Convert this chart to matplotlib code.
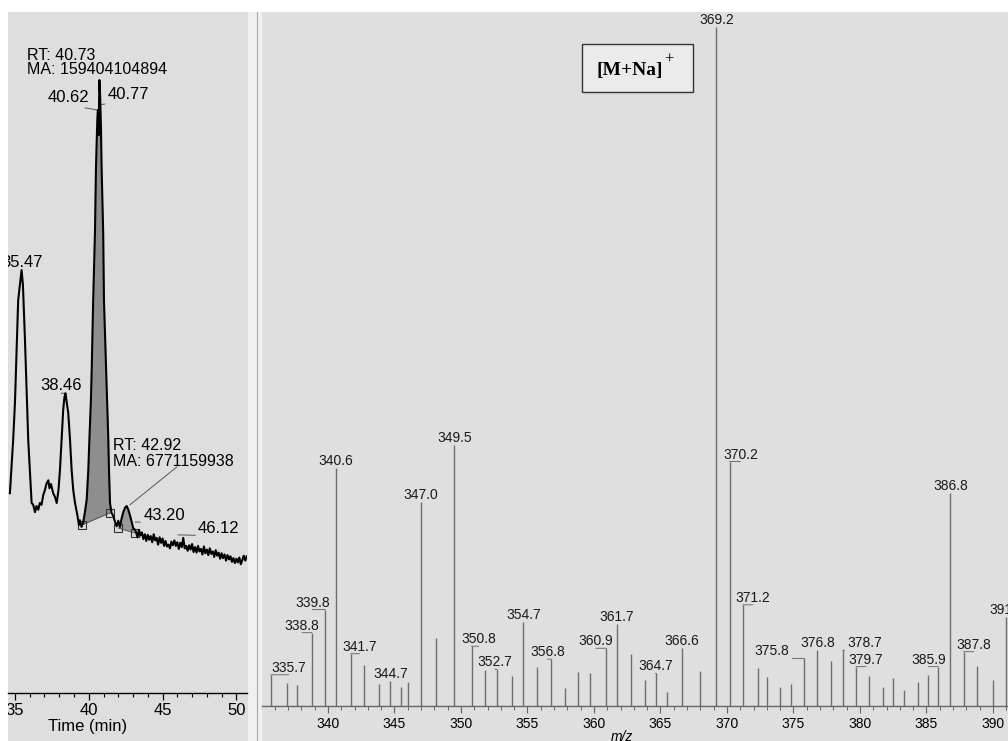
"""LC trace (left) and ESI mass spectrum of the main peak (right)."""
import matplotlib

matplotlib.use("Agg")
import matplotlib.pyplot as plt
import numpy as np
from matplotlib.patches import Rectangle
from matplotlib.ticker import MultipleLocator
from matplotlib.transforms import Bbox, TransformedBbox

W, H = 1008, 741

# chromatogram: time (min) and relative signal
rt_time = [
    34.66, 34.88, 35.00, 35.22, 35.45, 35.54, 35.68, 35.90, 36.13, 36.24,
    36.36, 36.46, 36.58, 36.69, 36.80, 36.92, 37.03, 37.13, 37.26, 37.34,
    37.44, 37.59, 37.71, 37.83, 37.95, 38.05, 38.16, 38.27, 38.35, 38.42,
    38.50, 38.61, 38.73, 38.84, 38.95, 39.07, 39.23, 39.34, 39.40, 39.51,
    39.63, 39.74, 39.86, 39.97, 40.05, 40.14, 40.20, 40.30, 40.42, 40.49,
    40.58, 40.62, 40.67, 40.72, 40.77, 40.83, 40.87, 40.98, 41.03, 41.17,
    41.25, 41.32, 41.37, 41.44, 41.54, 41.66, 41.78, 41.89, 42.00, 42.11,
    42.23, 42.34, 42.45, 42.57, 42.68, 42.79, 42.91, 43.01, 43.13,
    43.2, 43.3, 43.4, 43.5, 43.6, 43.7, 43.8, 43.9, 44.0, 44.1,
    44.2, 44.3, 44.4, 44.5, 44.6, 44.7, 44.8, 44.9, 45.0, 45.1,
    45.2, 45.3, 45.4, 45.5, 45.6, 45.7, 45.8, 45.9, 46.0, 46.1,
    46.2, 46.3, 46.4, 46.5, 46.6, 46.7, 46.8, 46.9, 47.0, 47.1,
    47.2, 47.3, 47.4, 47.5, 47.6, 47.7, 47.8, 47.9, 48.0, 48.1,
    48.2, 48.3, 48.4, 48.5, 48.6, 48.7, 48.8, 48.9, 49.0, 49.1,
    49.2, 49.3, 49.4, 49.5, 49.6, 49.7, 49.8, 49.9, 50.0, 50.1,
    50.2, 50.3, 50.4, 50.5, 50.6, 50.7,
]
rt_signal = [
    32.6, 41.3, 47.3, 64.1, 69.0, 66.6, 57.6, 41.3, 31.0, 30.7,
    29.5, 30.5, 29.9, 31.0, 30.7, 32.3, 33.1, 34.1, 34.7, 33.4,
    34.1, 32.6, 32.0, 31.0, 33.1, 36.4, 41.3, 46.2, 48.2, 48.9,
    47.6, 45.7, 41.3, 36.4, 33.1, 31.0, 29.0, 27.4, 28.2, 27.1,
    27.9, 29.5, 31.5, 36.4, 41.8, 47.3, 52.7, 64.1, 75.0, 85.8,
    93.5, 95.1, 91.0, 100.0, 97.6, 91.8, 85.8, 75.0, 64.1, 53.3,
    47.3, 41.8, 36.4, 31.0, 29.4, 28.9, 27.9, 27.2, 28.1, 27.1,
    28.5, 29.5, 30.2, 30.5, 29.9, 29.0, 27.9, 26.9, 26.6,
    26.3, 25.4, 26.6, 25.7, 26.2, 25.1, 25.9, 24.8, 25.8, 25.0,
    25.6, 24.6, 25.9, 24.9, 25.3, 24.2, 25.4, 24.5, 25.2, 24.0,
    24.8, 23.9, 24.2, 23.6, 24.7, 24.1, 24.9, 24.0, 24.6, 23.5,
    24.5, 23.8, 25.3, 23.6, 24.0, 23.2, 24.1, 23.4, 24.3, 23.0,
    23.8, 22.9, 24.0, 23.1, 23.5, 22.6, 23.9, 22.8, 23.4, 22.5,
    23.6, 22.7, 23.1, 22.2, 23.3, 22.4, 22.9, 21.9, 22.8, 22.0,
    22.6, 21.6, 22.5, 21.8, 22.3, 21.4, 22.0, 21.2, 21.9, 21.3,
    22.1, 21.0, 21.7, 22.4, 21.6, 22.3,
]

# integration baselines (start/end markers) of the two marked peaks
main_base_t = [39.52, 41.44]
main_base_s = [27.4, 29.4]
minor_base_t = [42.00, 43.13]
minor_base_s = [26.9, 26.1]

# mass spectrum: m/z and relative abundance (%)
ms_mz = [
    335.7, 336.9, 337.7, 338.8, 339.8, 340.6, 341.7, 342.7, 343.8, 344.7,
    345.5, 346.0, 347.0, 348.1, 349.5, 350.8, 351.8, 352.7, 353.8, 354.7,
    355.7, 356.8, 357.8, 358.8, 359.7, 360.9, 361.7, 362.8, 363.8, 364.7,
    365.5, 366.6, 368.0, 369.2, 370.2, 371.2, 372.3, 373.0, 374.0, 374.8,
    375.8, 376.8, 377.8, 378.7, 379.7, 380.7, 381.7, 382.5, 383.3, 384.4,
    385.1, 385.9, 386.8, 387.8, 388.8, 390.0, 391.0,
]
ms_intensity = [
    4.6, 3.4, 3.1, 10.8, 14.2, 35.0, 7.7, 6.0, 3.2, 3.7,
    2.8, 3.6, 30.1, 10.0, 38.4, 8.8, 5.3, 5.4, 4.4, 12.4,
    5.7, 6.9, 2.6, 5.0, 4.8, 8.5, 12.1, 7.7, 3.8, 4.8,
    2.0, 8.5, 5.2, 100.0, 36.0, 14.9, 5.6, 4.3, 2.8, 3.2,
    7.0, 8.3, 6.7, 8.2, 5.8, 4.4, 2.8, 4.1, 2.3, 3.6,
    4.6, 5.8, 31.3, 8.0, 5.9, 3.8, 13.1,
]
labeled_mz = [
    335.7, 338.8, 339.8, 340.6, 341.7, 344.7, 347.0, 349.5, 350.8, 352.7,
    354.7, 356.8, 360.9, 361.7, 364.7, 366.6, 369.2, 370.2, 371.2, 375.8,
    376.8, 378.7, 379.7, 385.9, 386.8, 387.8, 391.0,
]
# horizontal shift of each label from its peak (pixels)
label_dx = [
    18, -10, -13, 0, 9, 0, 0, 0, 7, -2,
    0, -4, -10, 0, -1, 0, 0, 11, 10, -32,
    0, 22, 10, -10, 0, 10, 0,
]


def fx(x):
    return x / W


def fy(y):
    return 1 - y / H


def panel_clip(fig, x0, x1):
    return TransformedBbox(Bbox([[fx(x0), 0], [fx(x1), 1]]), fig.transFigure)


def shade(ax, base_t, base_s, color):
    t = np.asarray(rt_time)
    s = np.asarray(rt_signal)
    m = (t > base_t[0]) & (t < base_t[1])
    tt = np.concatenate([[base_t[0]], t[m], [base_t[1]]])
    ss = np.concatenate([[np.interp(base_t[0], t, s)], s[m], [np.interp(base_t[1], t, s)]])
    base = np.interp(tt, base_t, base_s)
    ax.fill_between(tt, base, ss, where=ss >= base, interpolate=True, color=color, lw=0, zorder=1)
    ax.plot(base_t, base_s, color="#555555", lw=0.6, zorder=2)
    ax.plot(base_t, base_s, ls="none", marker="s", ms=5.5, mfc="none", mec="#333333", mew=0.8, zorder=3)


def main() -> None:
    plt.rcParams["font.family"] = ["Liberation Sans", "DejaVu Sans"]
    fig = plt.figure(figsize=(W / 100, H / 100), dpi=100)
    fig.patch.set_facecolor("white")

    # scanned panel backgrounds (behind the axes)
    for x0, x1, c in [(8, 248, "#dedede"), (248, 262, "#efefef"), (262, W, "#dfdfdf")]:
        fig.patches.append(Rectangle((fx(x0), 0), fx(x1) - fx(x0), fy(12), transform=fig.transFigure,
                                     facecolor=c, edgecolor="none", zorder=-5))
    fig.add_artist(plt.Line2D([fx(257), fx(257)], [0, fy(12)], transform=fig.transFigure,
                              color="#a8a8a8", lw=0.8, zorder=-4))

    # ---- left: chromatogram
    ax1 = fig.add_axes([fx(8), fy(693), fx(247) - fx(8), fy(12) - fy(693)])
    ax1.set_facecolor("none")
    ax1.set_xlim(34.53, 50.72)
    ax1.set_ylim(0, 111.1)
    for side in ("top", "right", "left"):
        ax1.spines[side].set_visible(False)
    ax1.spines["bottom"].set_linewidth(1.0)
    ax1.set_yticks([])
    ax1.xaxis.set_major_locator(MultipleLocator(5))
    ax1.xaxis.set_minor_locator(MultipleLocator(1))
    ax1.tick_params(axis="x", which="major", length=5, width=0.9, labelsize=12, pad=2)
    ax1.tick_params(axis="x", which="minor", length=3, width=0.8)

    shade(ax1, main_base_t, main_base_s, "#8e8e8e")
    shade(ax1, minor_base_t, minor_base_s, "#9a9a9a")
    ax1.plot(rt_time, rt_signal, color="black", lw=1.5, zorder=4)

    lk = dict(textcoords="offset pixels", ha="center", va="baseline", fontsize=12,
              annotation_clip=False,
              arrowprops=dict(arrowstyle="-", color="#555555", lw=0.7, shrinkA=0, shrinkB=0, relpos=(0.5, 0)))
    ax1.annotate("40.62", xy=(40.62, 95.1), xytext=(-29, 8), **lk)
    ax1.annotate("40.77", xy=(40.79, 96.0), xytext=(28, 6), **lk)
    a = ax1.annotate("35.47", xy=(35.45, 69.0), xytext=(0, 3), **lk)
    a.set_clip_box(panel_clip(fig, 8, 248))
    a.set_clip_on(True)
    ax1.annotate("38.46", xy=(38.42, 48.9), xytext=(-4, 3), **lk)
    ax1.annotate("43.20", xy=(43.13, 27.9), xytext=(29, 2), **lk)
    ax1.annotate("46.12", xy=(46.04, 25.8), xytext=(41, 2), **lk)
    ax1.annotate("", xy=(42.79, 30.7), xytext=(45.98, 36.9),
                 arrowprops=dict(arrowstyle="-", color="#555555", lw=0.7, shrinkA=0, shrinkB=0))

    fig.text(fx(27), fy(60), "RT: 40.73", fontsize=11.5, va="baseline")
    fig.text(fx(27), fy(74), "MA: 159404104894", fontsize=11.5, va="baseline")
    fig.text(fx(113), fy(450), "RT: 42.92", fontsize=11.5, va="baseline")
    fig.text(fx(113), fy(466), "MA: 6771159938", fontsize=11.5, va="baseline")
    fig.text(fx(87.5), fy(727), "Time (min)", fontsize=12, ha="center", va="center")

    # ---- right: mass spectrum
    ax2 = fig.add_axes([fx(262), fy(706), 1 - fx(262), fy(12) - fy(706)])
    ax2.set_facecolor("none")
    ax2.set_xlim(335.04, 391.13)
    ax2.set_ylim(0, 102.2)
    for side in ("top", "right", "left"):
        ax2.spines[side].set_visible(False)
    ax2.spines["bottom"].set_color("#666666")
    ax2.spines["bottom"].set_linewidth(1.0)
    ax2.set_yticks([])
    ax2.xaxis.set_major_locator(MultipleLocator(5))
    ax2.xaxis.set_minor_locator(MultipleLocator(1))
    ax2.tick_params(axis="x", which="major", length=5, width=0.8, color="#666666", labelsize=10, pad=3)
    ax2.tick_params(axis="x", which="minor", length=3, width=0.7, color="#666666")

    ax2.vlines(ms_mz, 0, ms_intensity, color="#6e6e6e", lw=1.0)
    for mz, dx in zip(labeled_mz, label_dx):
        h = ms_intensity[ms_mz.index(mz)]
        ax2.annotate(f"{mz:.1f}", xy=(mz, h), xytext=(dx, 3), textcoords="offset pixels",
                     ha="center", va="baseline", fontsize=10, color="#1a1a1a", annotation_clip=False,
                     arrowprops=dict(arrowstyle="-", color="#6e6e6e", lw=0.7, shrinkA=0, shrinkB=0,
                                     relpos=(0.5, 0)))

    fig.text(fx(622), fy(730), "m/z", fontsize=10, style="italic", ha="center", va="top")

    # ion label box
    fig.patches.append(Rectangle((fx(581.7), fy(92.3)), fx(693.3) - fx(581.7), fy(44.3) - fy(92.3),
                                 transform=fig.transFigure, facecolor="#ebebeb", edgecolor="#333333",
                                 lw=1.0, zorder=3))
    fig.text(fx(597), fy(75), "[M+Na]", fontsize=14, family="Liberation Serif", weight="bold",
             va="baseline", zorder=4)
    fig.text(fx(664), fy(64), "+", fontsize=12, family="Liberation Serif", va="baseline", zorder=4)

    # tick labels clipped at the panel edges like the scanned crop
    fig.canvas.draw()
    for ax, (x0, x1) in ((ax1, (8, 248)), (ax2, (262, W))):
        for tick in ax.xaxis.get_major_ticks():
            tick.label1.set_clip_box(panel_clip(fig, x0, x1))
            tick.label1.set_clip_on(True)

    fig.savefig("out.png", dpi=100)
    plt.close(fig)


if __name__ == "__main__":
    main()
